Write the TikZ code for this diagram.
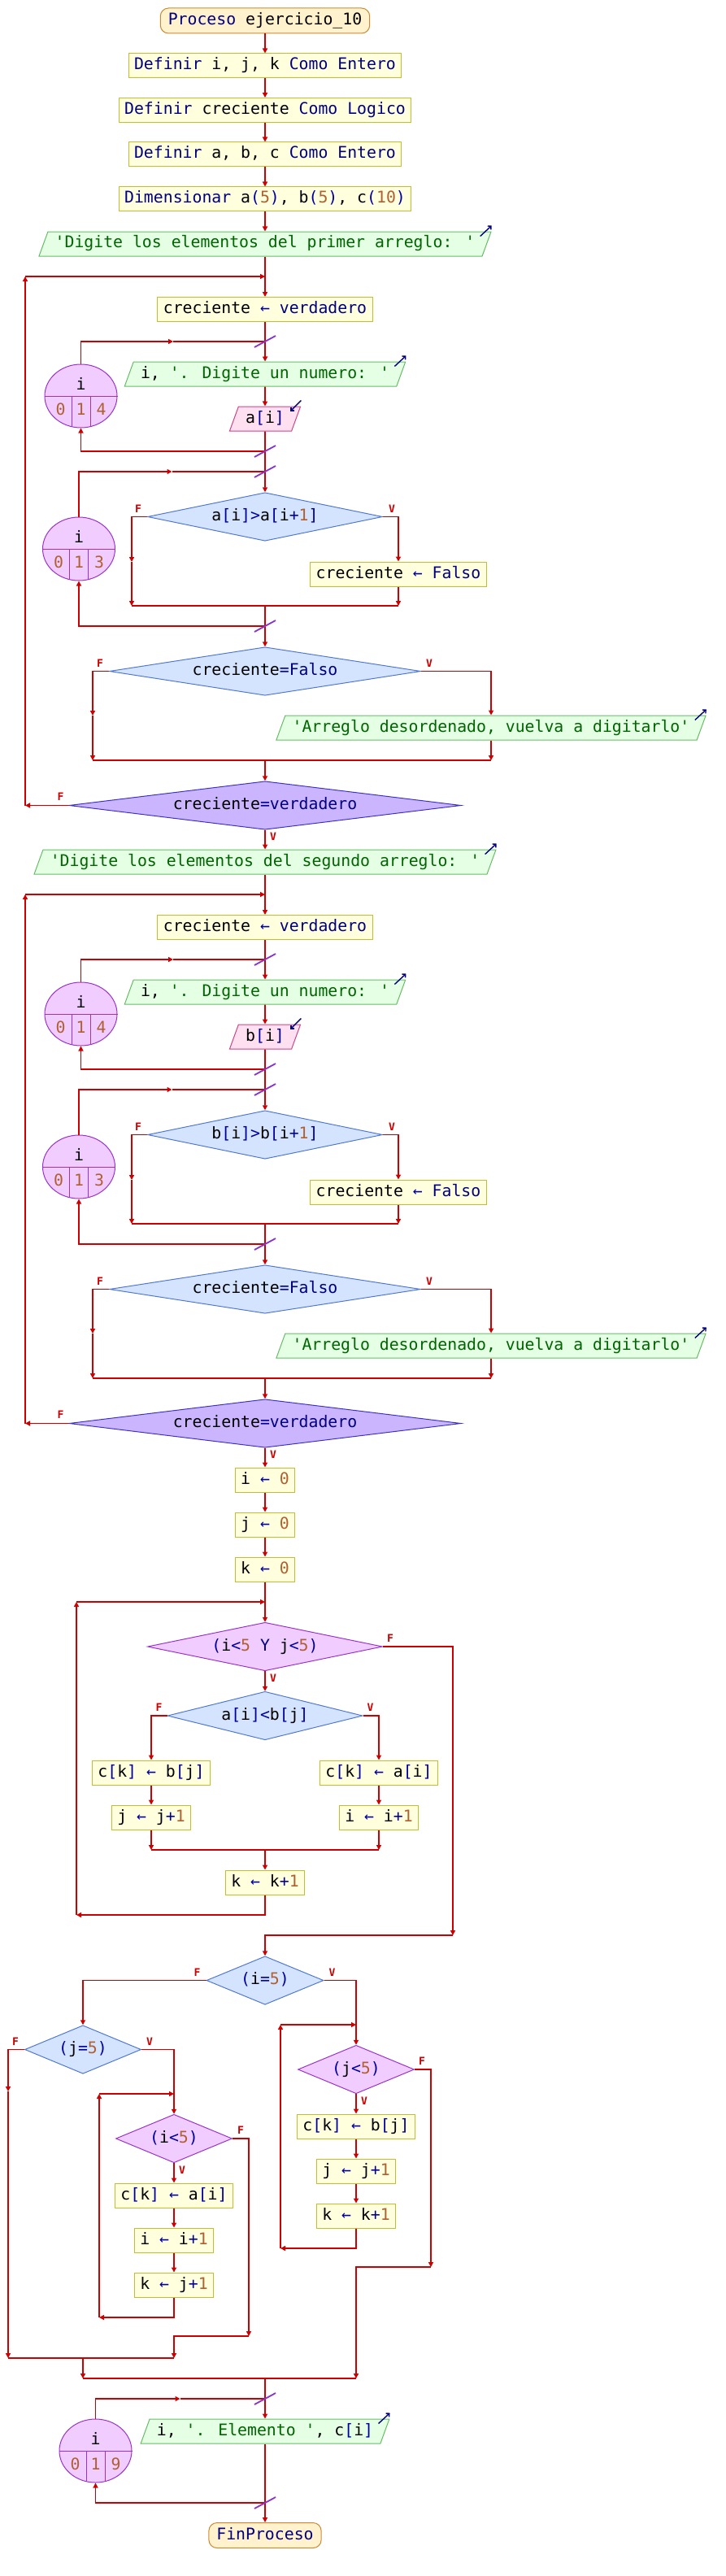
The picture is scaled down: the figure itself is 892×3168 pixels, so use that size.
\documentclass[tikz,border=0pt]{standalone}
\usepackage{fontspec}
\usepackage{tikz}
\usetikzlibrary{shapes.geometric,arrows.meta}

\newfontfamily\psfont{DejaVu Sans Mono}
\newcommand\pssize{\fontsize{19.8pt}{22pt}\selectfont}

\definecolor{flowred}{RGB}{204,0,0}
\definecolor{procfill}{RGB}{255,255,221}
\definecolor{procdraw}{RGB}{191,191,47}
\definecolor{termfill}{RGB}{255,242,204}
\definecolor{termdraw}{RGB}{204,136,51}
\definecolor{outfill}{RGB}{229,255,229}
\definecolor{outdraw}{RGB}{102,187,102}
\definecolor{infill}{RGB}{255,224,240}
\definecolor{indraw}{RGB}{204,68,136}
\definecolor{iffill}{RGB}{212,228,255}
\definecolor{ifdraw}{RGB}{80,120,210}
\definecolor{loopfill}{RGB}{240,204,255}
\definecolor{loopdraw}{RGB}{153,51,204}
\definecolor{untilfill}{RGB}{204,181,255}
\definecolor{untildraw}{RGB}{60,50,200}
\definecolor{kwblue}{RGB}{0,0,128}
\definecolor{strgreen}{RGB}{0,100,0}
\definecolor{numbrown}{RGB}{176,96,48}
\definecolor{opblue}{RGB}{0,0,160}
\definecolor{slashpurple}{RGB}{136,51,204}

\newcommand\pkw[1]{\textcolor{kwblue}{#1}}
\newcommand\pnum[1]{\textcolor{numbrown}{#1}}
\newcommand\pstr[1]{\textcolor{strgreen}{#1}}
\newcommand\pop[1]{\textcolor{opblue}{#1}}

\tikzset{
  pstext/.style={font=\psfont\pssize, text height=14pt, text depth=4pt},
  proc/.style={rectangle, fill=procfill, draw=procdraw, line width=1pt, pstext,
    inner xsep=7pt, inner ysep=6pt, minimum height=30pt},
  term/.style={rectangle, rounded corners=10pt, fill=termfill, draw=termdraw, line width=1pt,
    pstext, inner xsep=9.5pt, inner ysep=6pt, minimum height=31pt},
  outp/.style={trapezium, trapezium left angle=70, trapezium right angle=110,
    fill=outfill, draw=outdraw, line width=1pt, pstext, inner xsep=8.8pt, inner ysep=6pt},
  inp/.style={outp, fill=infill, draw=indraw},
  cond/.style={diamond, aspect=5, inner sep=0pt, fill=iffill, draw=ifdraw, line width=1pt,
    pstext, minimum height=59.5pt},
  wcond/.style={cond, fill=loopfill, draw=loopdraw},
  ucond/.style={cond, fill=untilfill, draw=untildraw},
  forloop/.style={ellipse, fill=loopfill, draw=loopdraw, line width=1pt,
    minimum width=89pt, minimum height=78pt, inner sep=0pt},
  loopline/.style={draw=loopdraw, line width=1pt},
  flow/.style={draw=flowred, line width=1.8pt, -{Triangle[length=6pt,width=6pt]}},
  link/.style={draw=flowred, line width=1.8pt},
  slash/.style={draw=slashpurple, line width=1.8pt},
  lbl/.style={font=\psfont\bfseries\fontsize{13pt}{15pt}\selectfont, text=flowred, inner sep=0pt},
  iconarrow/.style={draw=kwblue, line width=1.4pt, -{Straight Barb[length=3pt,width=6pt]}}
}

% for-loop circle: name, position, variable, start, step, end
\newcommand\forcirc[6]{%
  \node[forloop] (#1) at #2 {};
  \draw[loopline] (#1.west) -- (#1.east);
  \draw[loopline] ([shift={(-11.5,0)}]#1.center) -- ++(0,37.5);
  \draw[loopline] ([shift={(11.5,0)}]#1.center) -- ++(0,37.5);
  \node[pstext, inner sep=0pt] (#1v) at ([shift={(0,-13)}]#1.center) {#3};
  \node[pstext, inner sep=0pt, text=numbrown] (#1a) at ([shift={(-25,18)}]#1.center) {#4};
  \node[pstext, inner sep=0pt, text=numbrown] (#1b) at ([shift={(0,18)}]#1.center) {#5};
  \node[pstext, inner sep=0pt, text=numbrown] (#1c) at ([shift={(25,18)}]#1.center) {#6};
}
\newcommand\outicon[1]{\draw[iconarrow] ([shift={(-14,6)}]#1.top right corner) -- ([shift={(0,-7)}]#1.top right corner);}
\newcommand\inicon[1]{\draw[iconarrow] ([shift={(0,-7)}]#1.top right corner) -- ([shift={(-13,6)}]#1.top right corner);}

\begin{document}
\begin{tikzpicture}[x=1pt,y=-1pt]
\useasboundingbox (0,0) rectangle (892,3168);

% header:
\node[term] (start) at (326,25.5) {\pkw{Proceso} ejercicio\_10};
\node[proc] (def1) at (326,81) {\pkw{Definir} i, j, k \pkw{Como Entero}};
\node[proc] (def2) at (326,135.5) {\pkw{Definir} creciente \pkw{Como Logico}};
\node[proc] (def3) at (326,190) {\pkw{Definir} a, b, c \pkw{Como Entero}};
\node[proc] (dim) at (326,245) {\pkw{Dimensionar} a\pop{(}\pnum{5}\pop{)}, b\pop{(}\pnum{5}\pop{)}, c\pop{(}\pnum{10}\pop{)}};

% reading a:
\node[outp] (out1) at (326,300) {\pstr{'Digite los elementos del primer arreglo: '}};
\node[proc] (asg1) at (326,380.5) {creciente \pop{←} \pkw{verdadero}};
\node[outp] (out2) at (326,460) {i, \pstr{'. Digite un numero: '}};
\node[inp] (in1) at (326,515) {a\pop{[}i\pop{]}};
\node[cond, minimum width=289] (if1) at (326,635.5) {a\pop{[}i\pop{]>}a\pop{[}i\pop{+}\pnum{1}\pop{]}};
\node[proc] (asg2) at (490,706) {creciente \pop{←} \pkw{Falso}};
\node[cond, minimum width=383] (if2) at (326,825.5) {creciente\pop{=}\pkw{Falso}};
\node[outp] (out3) at (604,895) {\pstr{'Arreglo desordenado, vuelva a digitarlo'}};
\node[ucond, minimum width=482, aspect=6] (until1) at (326,990.5) {creciente\pop{=}\pkw{verdadero}};
\forcirc{forc1}{(99.5,487)}{i}{0}{1}{4}
\forcirc{forc2}{(97,675)}{i}{0}{1}{3}

% reading b:
\node[outp] (out4) at (326,1060) {\pstr{'Digite los elementos del segundo arreglo: '}};
\node[proc] (asg3) at (326,1140.5) {creciente \pop{←} \pkw{verdadero}};
\node[outp] (out5) at (326,1220) {i, \pstr{'. Digite un numero: '}};
\node[inp] (in2) at (326,1275) {b\pop{[}i\pop{]}};
\node[cond, minimum width=289] (if3) at (326,1395.5) {b\pop{[}i\pop{]>}b\pop{[}i\pop{+}\pnum{1}\pop{]}};
\node[proc] (asg4) at (490,1466) {creciente \pop{←} \pkw{Falso}};
\node[cond, minimum width=383] (if4) at (326,1585.5) {creciente\pop{=}\pkw{Falso}};
\node[outp] (out6) at (604,1655) {\pstr{'Arreglo desordenado, vuelva a digitarlo'}};
\node[ucond, minimum width=482, aspect=6] (until2) at (326,1750.5) {creciente\pop{=}\pkw{verdadero}};
\forcirc{forc3}{(99.5,1247)}{i}{0}{1}{4}
\forcirc{forc4}{(97,1435)}{i}{0}{1}{3}

% merging:
\node[proc] (iz) at (326,1820) {i \pop{←} \pnum{0}};
\node[proc] (jz) at (326,1875) {j \pop{←} \pnum{0}};
\node[proc] (kz) at (326,1930) {k \pop{←} \pnum{0}};
\node[wcond, minimum width=289] (wh1) at (326,2025) {\pop{(}i\pop{<}\pnum{5} \pkw{Y} j\pop{<}\pnum{5}\pop{)}};
\node[cond, minimum width=240, aspect=4] (if5) at (326,2110) {a\pop{[}i\pop{]<}b\pop{[}j\pop{]}};
\node[proc] (ckb1) at (186,2180) {c\pop{[}k\pop{]} \pop{←} b\pop{[}j\pop{]}};
\node[proc] (jinc1) at (186,2235) {j \pop{←} j\pop{+}\pnum{1}};
\node[proc] (cka1) at (466,2180) {c\pop{[}k\pop{]} \pop{←} a\pop{[}i\pop{]}};
\node[proc] (iinc1) at (466,2235) {i \pop{←} i\pop{+}\pnum{1}};
\node[proc] (kinc1) at (326,2315) {k \pop{←} k\pop{+}\pnum{1}};

% rest of a or b:
\node[cond, minimum width=144, aspect=2.4] (if6) at (326,2435.5) {\pop{(}i\pop{=}\pnum{5}\pop{)}};
\node[cond, minimum width=143, aspect=2.4] (if7) at (102,2520.5) {\pop{(}j\pop{=}\pnum{5}\pop{)}};
\node[wcond, minimum width=143, aspect=2.4] (wh2) at (214,2630) {\pop{(}i\pop{<}\pnum{5}\pop{)}};
\node[proc] (cka2) at (214,2700) {c\pop{[}k\pop{]} \pop{←} a\pop{[}i\pop{]}};
\node[proc] (iinc2) at (214,2755) {i \pop{←} i\pop{+}\pnum{1}};
\node[proc] (kinc2) at (214,2810) {k \pop{←} j\pop{+}\pnum{1}};
\node[wcond, minimum width=143, aspect=2.4] (wh3) at (438,2545) {\pop{(}j\pop{<}\pnum{5}\pop{)}};
\node[proc] (ckb3) at (438,2615) {c\pop{[}k\pop{]} \pop{←} b\pop{[}j\pop{]}};
\node[proc] (jinc3) at (438,2670) {j \pop{←} j\pop{+}\pnum{1}};
\node[proc] (kinc3) at (438,2725) {k \pop{←} k\pop{+}\pnum{1}};

% printing c:
\node[outp] (out7) at (326,2990) {i, \pstr{'. Elemento '}, c\pop{[}i\pop{]}};
\forcirc{forc5}{(117.5,3014)}{i}{0}{1}{9}
\node[term] (fin) at (326,3118) {\pkw{FinProceso}};

% corners of the connectors:
\coordinate (rep1) at (326,340);
\coordinate (rep1a) at (31,340);
\coordinate (rep1b) at (31,990.5);
\coordinate (for1s) at (326,420);
\coordinate (for1m) at (213,420);
\coordinate (for1e) at (326,555);
\coordinate (for2s) at (326,580);
\coordinate (for2m) at (211.5,580);
\coordinate (for2e) at (326,770);
\coordinate (if1fm) at (162,691);
\coordinate (if1jl) at (162,745);
\coordinate (if1jr) at (490,745);
\coordinate (if1j) at (326,745);
\coordinate (if2fm) at (114,880);
\coordinate (if2jl) at (114,935);
\coordinate (if2jr) at (604,935);
\coordinate (if2j) at (326,935);

\coordinate (rep2) at (326,1100);
\coordinate (rep2a) at (31,1100);
\coordinate (rep2b) at (31,1750.5);
\coordinate (for3s) at (326,1180);
\coordinate (for3m) at (213,1180);
\coordinate (for3e) at (326,1315);
\coordinate (for4s) at (326,1340);
\coordinate (for4m) at (211.5,1340);
\coordinate (for4e) at (326,1530);
\coordinate (if3fm) at (162,1451);
\coordinate (if3jl) at (162,1505);
\coordinate (if3jr) at (490,1505);
\coordinate (if3j) at (326,1505);
\coordinate (if4fm) at (114,1640);
\coordinate (if4jl) at (114,1695);
\coordinate (if4jr) at (604,1695);
\coordinate (if4j) at (326,1695);

\coordinate (wh1s) at (326,1970);
\coordinate (wh1a) at (94,1970);
\coordinate (wh1b) at (94,2355);
\coordinate (wh1x) at (557,2380);
\coordinate (if5jl) at (186,2275);
\coordinate (if5jr) at (466,2275);
\coordinate (if5j) at (326,2275);

\coordinate (if7fm) at (10,2572);
\coordinate (if7jl) at (10,2900);
\coordinate (if7jr) at (214,2900);
\coordinate (if7j) at (102,2900);
\coordinate (wh2s) at (214,2575);
\coordinate (wh2a) at (122,2575);
\coordinate (wh2b) at (122,2850);
\coordinate (wh2x) at (306,2873);
\coordinate (wh3s) at (438,2490);
\coordinate (wh3a) at (345,2490);
\coordinate (wh3b) at (345,2765);
\coordinate (wh3x) at (530,2788);
\coordinate (if6jl) at (102,2925);
\coordinate (if6jr) at (438,2925);
\coordinate (if6j) at (326,2925);

\coordinate (for5s) at (326,2950);
\coordinate (for5m) at (221.5,2950);
\coordinate (for5e) at (326,3078);

% connectors, header and a:
\draw[flow] (start) -- (def1);
\draw[flow] (def1) -- (def2);
\draw[flow] (def2) -- (def3);
\draw[flow] (def3) -- (dim);
\draw[flow] (dim) -- (out1);
\draw[flow] (out1) -- (asg1);
\draw[flow] (asg1) -- (out2);
\draw[flow] (out2) -- (in1);
\draw[flow] (in1) -- (if1);
\draw[flow] (forc1.north) |- (for1m);
\draw[link] (for1m) -- (for1s);
\draw[flow] (for1e) -| (forc1.south);
\draw[flow] (forc2.north) |- (for2m);
\draw[link] (for2m) -- (for2s);
\draw[flow] (for2e) -| (forc2.south);
\draw[flow] (if1.west) -| (if1fm);
\draw[flow] (if1fm) -- (if1jl);
\draw[flow] (if1.east) -| (asg2);
\draw[flow] (asg2) -- (if1jr);
\draw[link] (if1jl) -- (if1jr);
\draw[flow] (if1j) -- (if2);
\draw[flow] (if2.west) -| (if2fm);
\draw[flow] (if2fm) -- (if2jl);
\draw[flow] (if2.east) -| (out3);
\draw[flow] (out3) -- (if2jr);
\draw[link] (if2jl) -- (if2jr);
\draw[flow] (if2j) -- (until1);
\draw[flow] (until1.west) -- (rep1b);
\draw[flow] (rep1b) -- (rep1a);
\draw[flow] (rep1a) -- (rep1);
\draw[flow] (until1) -- (out4);

% connectors, b:
\draw[flow] (out4) -- (asg3);
\draw[flow] (asg3) -- (out5);
\draw[flow] (out5) -- (in2);
\draw[flow] (in2) -- (if3);
\draw[flow] (forc3.north) |- (for3m);
\draw[link] (for3m) -- (for3s);
\draw[flow] (for3e) -| (forc3.south);
\draw[flow] (forc4.north) |- (for4m);
\draw[link] (for4m) -- (for4s);
\draw[flow] (for4e) -| (forc4.south);
\draw[flow] (if3.west) -| (if3fm);
\draw[flow] (if3fm) -- (if3jl);
\draw[flow] (if3.east) -| (asg4);
\draw[flow] (asg4) -- (if3jr);
\draw[link] (if3jl) -- (if3jr);
\draw[flow] (if3j) -- (if4);
\draw[flow] (if4.west) -| (if4fm);
\draw[flow] (if4fm) -- (if4jl);
\draw[flow] (if4.east) -| (out6);
\draw[flow] (out6) -- (if4jr);
\draw[link] (if4jl) -- (if4jr);
\draw[flow] (if4j) -- (until2);
\draw[flow] (until2.west) -- (rep2b);
\draw[flow] (rep2b) -- (rep2a);
\draw[flow] (rep2a) -- (rep2);

% connectors, merging:
\draw[flow] (until2) -- (iz);
\draw[flow] (iz) -- (jz);
\draw[flow] (jz) -- (kz);
\draw[flow] (kz) -- (wh1);
\draw[flow] (wh1) -- (if5);
\draw[flow] (if5.west) -| (ckb1);
\draw[flow] (ckb1) -- (jinc1);
\draw[flow] (jinc1) -- (if5jl);
\draw[flow] (if5.east) -| (cka1);
\draw[flow] (cka1) -- (iinc1);
\draw[flow] (iinc1) -- (if5jr);
\draw[link] (if5jl) -- (if5jr);
\draw[flow] (if5j) -- (kinc1);
\draw[flow] (kinc1) |- (wh1b);
\draw[flow] (wh1b) -- (wh1a);
\draw[flow] (wh1a) -- (wh1s);
\draw[flow] (wh1.east) -| (wh1x);
\draw[flow] (wh1x) -| (if6);

% connectors, rest:
\draw[flow] (if6.west) -| (if7);
\draw[flow] (if6.east) -| (wh3);
\draw[flow] (if7.west) -| (if7fm);
\draw[flow] (if7fm) -- (if7jl);
\draw[flow] (if7.east) -| (wh2);
\draw[flow] (wh2) -- (cka2);
\draw[flow] (cka2) -- (iinc2);
\draw[flow] (iinc2) -- (kinc2);
\draw[flow] (kinc2) |- (wh2b);
\draw[flow] (wh2b) -- (wh2a);
\draw[flow] (wh2a) -- (wh2s);
\draw[flow] (wh2.east) -| (wh2x);
\draw[flow] (wh2x) -| (if7jr);
\draw[link] (if7jl) -- (if7jr);
\draw[flow] (if7j) -- (if6jl);
\draw[flow] (wh3) -- (ckb3);
\draw[flow] (ckb3) -- (jinc3);
\draw[flow] (jinc3) -- (kinc3);
\draw[flow] (kinc3) |- (wh3b);
\draw[flow] (wh3b) -- (wh3a);
\draw[flow] (wh3a) -- (wh3s);
\draw[flow] (wh3.east) -| (wh3x);
\draw[flow] (wh3x) -| (if6jr);
\draw[link] (if6jl) -- (if6jr);
\draw[flow] (if6j) -- (out7);
\draw[flow] (out7) -- (fin);
\draw[flow] (forc5.north) |- (for5m);
\draw[link] (for5m) -- (for5s);
\draw[flow] (for5e) -| (forc5.south);

% loop marks and io marks:
\foreach \p in {for1s,for1e,for2s,for2e,for3s,for3e,for4s,for4e,for5s,for5e}
  \draw[slash] ([shift={(-13,7)}]\p) -- ([shift={(13,-7)}]\p);
\outicon{out1} \outicon{out2} \outicon{out3} \outicon{out4}
\outicon{out5} \outicon{out6} \outicon{out7}
\inicon{in1} \inicon{in2}

% branch labels:
\node[lbl] (if1F) at ([shift={(-11,-10)}]if1.west) {F};
\node[lbl] (if1V) at ([shift={(11,-10)}]if1.east) {V};
\node[lbl] (if2F) at ([shift={(-11,-10)}]if2.west) {F};
\node[lbl] (if2V) at ([shift={(10,-10)}]if2.east) {V};
\node[lbl] (until1F) at ([shift={(-10,-11)}]until1.west) {F};
\node[lbl] (until1V) at ([shift={(10,8)}]until1.south) {V};
\node[lbl] (if3F) at ([shift={(-11,-10)}]if3.west) {F};
\node[lbl] (if3V) at ([shift={(11,-10)}]if3.east) {V};
\node[lbl] (if4F) at ([shift={(-11,-10)}]if4.west) {F};
\node[lbl] (if4V) at ([shift={(10,-10)}]if4.east) {V};
\node[lbl] (until2F) at ([shift={(-10,-11)}]until2.west) {F};
\node[lbl] (until2V) at ([shift={(10,8)}]until2.south) {V};
\node[lbl] (wh1F) at ([shift={(9,-10)}]wh1.east) {F};
\node[lbl] (wh1V) at ([shift={(10,8)}]wh1.south) {V};
\node[lbl] (if5F) at ([shift={(-10,-10)}]if5.west) {F};
\node[lbl] (if5V) at ([shift={(9,-10)}]if5.east) {V};
\node[lbl] (if6F) at ([shift={(-11,-10)}]if6.west) {F};
\node[lbl] (if6V) at ([shift={(10,-10)}]if6.east) {V};
\node[lbl] (if7F) at ([shift={(-11,-10)}]if7.west) {F};
\node[lbl] (if7V) at ([shift={(10,-10)}]if7.east) {V};
\node[lbl] (wh2F) at ([shift={(10,-10)}]wh2.east) {F};
\node[lbl] (wh2V) at ([shift={(10,8)}]wh2.south) {V};
\node[lbl] (wh3F) at ([shift={(9,-10)}]wh3.east) {F};
\node[lbl] (wh3V) at ([shift={(10,8)}]wh3.south) {V};

\end{tikzpicture}
\end{document}
